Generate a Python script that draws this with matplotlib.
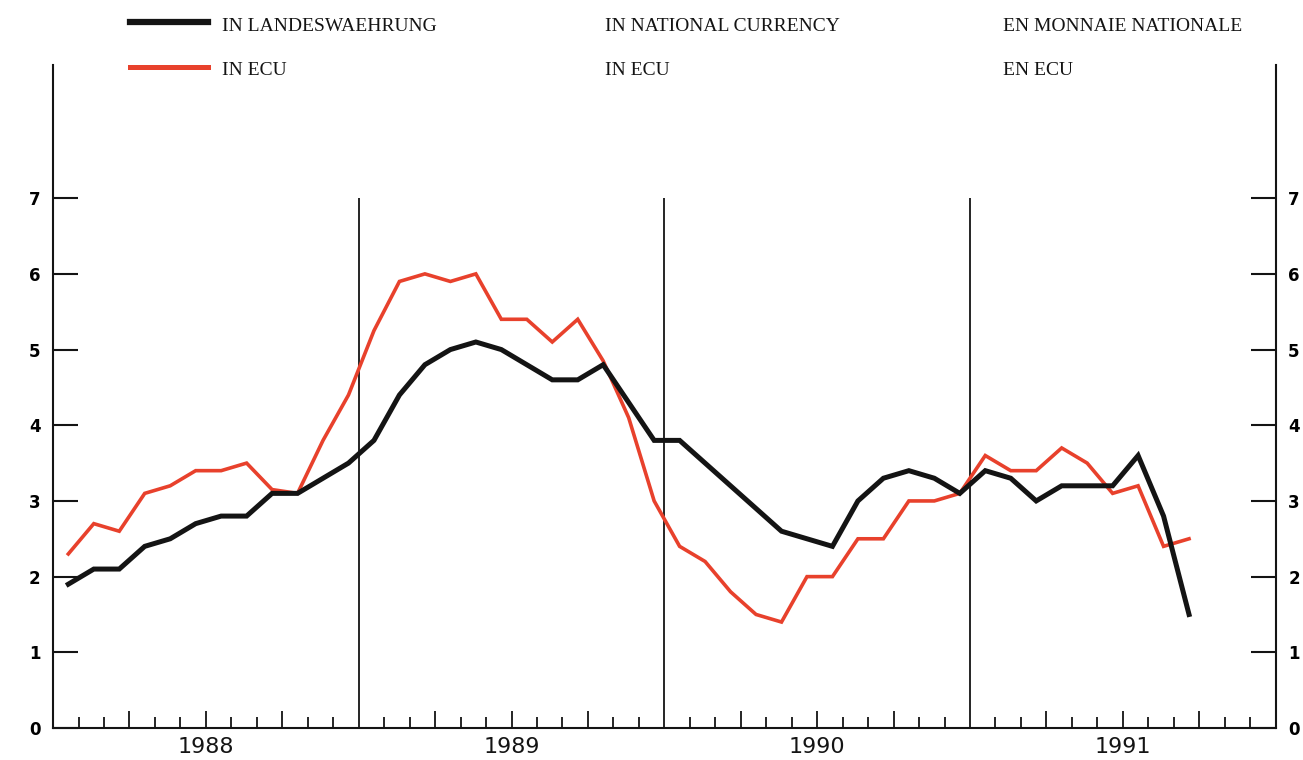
import numpy as np
import matplotlib.pyplot as plt
from matplotlib.lines import Line2D

# monthly values, Jan 1988 - Sep 1991
national = [1.9, 2.1, 2.1, 2.4, 2.5, 2.7, 2.8, 2.8, 3.1, 3.1, 3.3, 3.5,
            3.8, 4.4, 4.8, 5.0, 5.1, 5.0, 4.8, 4.6, 4.6, 4.8, 4.3, 3.8,
            3.8, 3.5, 3.2, 2.9, 2.6, 2.5, 2.4, 3.0, 3.3, 3.4, 3.3, 3.1,
            3.4, 3.3, 3.0, 3.2, 3.2, 3.2, 3.6, 2.8, 1.5]
ecu = [2.3, 2.7, 2.6, 3.1, 3.2, 3.4, 3.4, 3.5, 3.15, 3.1, 3.8, 4.4,
       5.25, 5.9, 6.0, 5.9, 6.0, 5.4, 5.4, 5.1, 5.4, 4.85, 4.1, 3.0,
       2.4, 2.2, 1.8, 1.5, 1.4, 2.0, 2.0, 2.5, 2.5, 3.0, 3.0, 3.1,
       3.6, 3.4, 3.4, 3.7, 3.5, 3.1, 3.2, 2.4, 2.5]
years = ["1988", "1989", "1990", "1991"]
legend_de = ["IN LANDESWAEHRUNG", "IN ECU"]
legend_en = ["IN NATIONAL CURRENCY", "IN ECU"]
legend_fr = ["EN MONNAIE NATIONALE", "EN ECU"]

black = "#141414"
red = "#e8412c"
serif = "Liberation Serif"
sans = "DejaVu Sans"

fig = plt.figure(figsize=(13.03, 7.6), dpi=100)
ax = fig.add_axes([0.0407, 0.0421, 0.9383, 0.8724])

x = np.arange(len(national)) + 0.6
ax.plot(x, national, color=black, lw=3.6, solid_joinstyle="miter", zorder=3)
ax.plot(x, ecu, color=red, lw=2.6, solid_joinstyle="miter", zorder=2)

nmonths = 12 * len(years)
ax.set_xlim(0, nmonths)
ax.set_ylim(0, 8.76)

# year separators
ax.vlines(np.arange(12, nmonths, 12), 0, 7, color=black, lw=1.3, zorder=1)

ax.spines["top"].set_visible(False)
for s in ["left", "right", "bottom"]:
    ax.spines[s].set_linewidth(1.5)
    ax.spines[s].set_color(black)

months = np.arange(1, nmonths)
quarters = [m for m in months if m % 3 == 0 and m % 12 != 0]
others = [m for m in months if m % 3 != 0]
ax.set_xticks(quarters)
ax.set_xticks(others, minor=True)
ax.set_xticklabels([])
ax.tick_params(axis="x", which="major", direction="in", length=12, width=1.3, color=black)
ax.tick_params(axis="x", which="minor", direction="in", length=8, width=1.3, color=black)

ax.set_yticks(range(8))
ax.tick_params(axis="y", direction="in", length=18, width=1.5, color=black,
               left=True, right=True, labelleft=True, labelright=True, pad=9,
               labelsize=12)
for lab in ax.get_yticklabels():
    lab.set_family(sans)
    lab.set_fontweight("bold")

for i, yr in enumerate(years):
    ax.text(12 * i + 6, -0.12, yr, ha="center", va="top", fontsize=16, family=sans,
            color=black)

# legend across the top
line_y = [0.971, 0.912]
text_y = [0.9645, 0.9066]
for ly, ty, c, w, t in zip(line_y, text_y, [black, red], [4.5, 3.6], legend_de):
    fig.add_artist(Line2D([0.1, 0.16], [ly, ly], color=c, lw=w, transform=fig.transFigure))
    fig.text(0.170, ty, t, fontsize=14, family=serif, va="center", color=black)
for ty, t in zip(text_y, legend_en):
    fig.text(0.464, ty, t, fontsize=14, family=serif, va="center", color=black)
for ty, t in zip(text_y, legend_fr):
    fig.text(0.770, ty, t, fontsize=14, family=serif, va="center", color=black)

fig.savefig("out.png", dpi=100)
